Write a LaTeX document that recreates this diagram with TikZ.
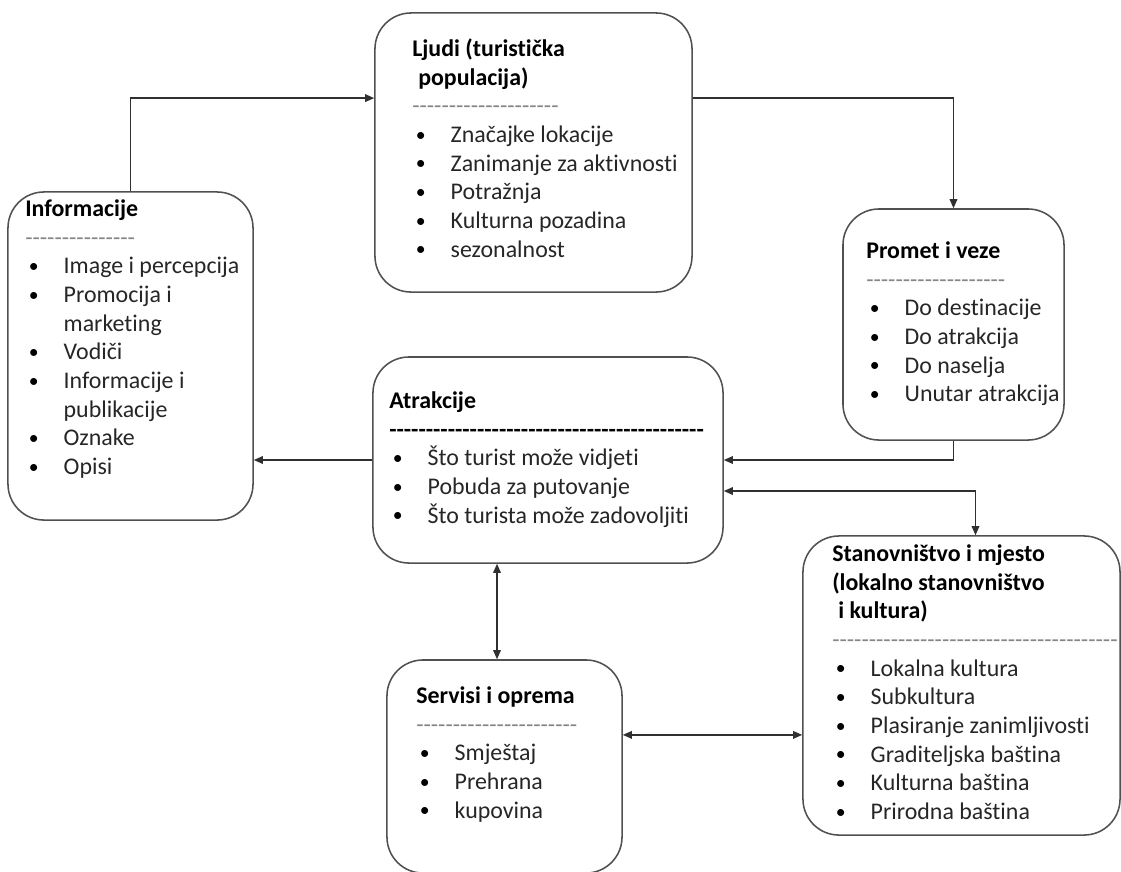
\documentclass[tikz,border=0pt]{standalone}
\usepackage{fontspec}
\setmainfont{Carlito}[Ligatures={TeXOff,NoCommon}]
\usepackage{tikz}
\usetikzlibrary{arrows.meta,positioning,calc}
\definecolor{boxgray}{HTML}{505050}
\definecolor{linegray}{HTML}{303030}
\definecolor{sepgray}{HTML}{858585}
\definecolor{itemtext}{HTML}{262626}
\newlength{\bulind}
\setlength{\bulind}{0.96cm}
\newcommand{\itm}[1]{\makebox[\bulind][l]{\hspace{2.5pt}\raisebox{1pt}{\fontsize{14}{14}\selectfont\textcolor{black}{\textbullet}}}#1}
\newcommand{\cont}[1]{\hspace*{\bulind}#1}
\newcommand{\ttl}[1]{\textcolor{black}{\textbf{#1}}}
\newcommand{\sepline}[2][sepgray]{\textcolor{#1}{\foreach\k in {1,...,#2}{-}}}

\begin{document}
\begin{tikzpicture}[x=0.025cm, y=-0.025cm,
  box/.style={draw=boxgray, line width=1.1pt, rounded corners=0.9cm,
              fill=white, inner sep=0pt},
  txt/.style={anchor=north west, inner sep=0pt, align=left,
              text=itemtext, font=\fontsize{17}{20.4}\selectfont},
  link/.style={draw=linegray, line width=0.9pt,
               -{Triangle[length=6.5pt,width=5.5pt]}},
  both/.style={link,
               {Triangle[length=6.5pt,width=5.5pt]}-{Triangle[length=6.5pt,width=5.5pt]}}
]
\useasboundingbox (0,0) rectangle (1121,871);
\node[box, minimum width=7.925cm, minimum height=6.975cm] (ljudi) at (533.5,152.5) {};
\node[box, minimum width=6.125cm, minimum height=8.2cm] (info) at (130.5,356) {};
\node[box, minimum width=5.525cm, minimum height=5.775cm] (promet) at (953.5,324.5) {};
\node[box, minimum width=8.75cm, minimum height=5.15cm] (atrak) at (548,460) {};
\node[box, minimum width=7.925cm, minimum height=7.475cm] (stan) at (961.5,685.5) {};
\node[box, minimum width=5.875cm, minimum height=5.325cm] (serv) at (504.5,766.5) {};
% Box texts
\node[txt] (ljudi-t) at (412,36) {\strut\ttl{Ljudi (turistička}\\
  \ttl{\hspace{0.25em}populacija)}\\
  \sepline{20}\\
  \itm{Značajke lokacije}\\
  \itm{Zanimanje za aktivnosti}\\
  \itm{Potražnja}\\
  \itm{Kulturna pozadina}\\
  \itm{sezonalnost}};
\node[txt] (info-t) at (25,196) {\strut\ttl{Informacije}\\
  \sepline{15}\\
  \itm{Image i percepcija}\\
  \itm{Promocija i}\\
  \cont{marketing}\\
  \itm{Vodiči}\\
  \itm{Informacije i}\\
  \cont{publikacije}\\
  \itm{Oznake}\\
  \itm{Opisi}};
\node[txt] (promet-t) at (866,238) {\strut\ttl{Promet i veze}\\
  \sepline{19}\\
  \itm{Do destinacije}\\
  \itm{Do atrakcija}\\
  \itm{Do naselja}\\
  \itm{Unutar atrakcija}};
\node[txt] (atrak-t) at (389,388) {\strut\ttl{Atrakcije}\\
  \textbf{\sepline[black]{43}}\\
  \itm{Što turist može vidjeti}\\
  \itm{Pobuda za putovanje}\\
  \itm{Što turista može zadovoljiti}};
\node[txt] (stan-t) at (832,541) {\strut\ttl{Stanovništvo i mjesto}\\
  \ttl{(lokalno stanovništvo}\\
  \ttl{\hspace{0.25em}i kultura)}\\
  \sepline{39}\\
  \itm{Lokalna kultura}\\
  \itm{Subkultura}\\
  \itm{Plasiranje zanimljivosti}\\
  \itm{Graditeljska baština}\\
  \itm{Kulturna baština}\\
  \itm{Prirodna baština}};
\node[txt] (serv-t) at (416,683) {\strut\ttl{Servisi i oprema}\\
  \sepline{22}\\
  \itm{Smještaj}\\
  \itm{Prehrana}\\
  \itm{kupovina}};
% Connecting arrows
\coordinate (sv) at ($(serv.north)+(-7.5,0)$);
\coordinate (se) at ([yshift=0.79cm]serv.east);
\draw[link] (info.north) |- ([yshift=1.36cm]ljudi.west);
\draw[link] ([yshift=1.36cm]ljudi.east) -| (promet.north);
\draw[link] (promet.south) |- (atrak.east);
\draw[link] (atrak.west) -- (atrak.west -| info.east);
\draw[both] ([yshift=-0.775cm]atrak.east) -| ([xshift=0.35cm]stan.north);
\draw[both] (sv) -- (sv |- atrak.south);
\draw[both] (se) -- (se -| stan.west);
\end{tikzpicture}
\end{document}
